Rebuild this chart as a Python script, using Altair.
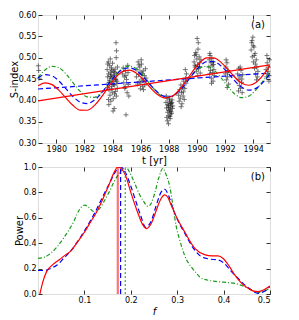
import altair as alt
import pandas as pd

FONT = "DejaVu Sans"

# ---------------- data: panel (a) ----------------
obs_t = [
    1978.72, 1978.75, 1978.78,
    1983.62, 1983.65, 1983.68, 1983.70, 1983.72, 1983.75, 1983.78, 1983.80, 1983.82, 1983.85,
    1983.88, 1983.90, 1983.92, 1983.95, 1983.98, 1984.00, 1984.02, 1984.05, 1984.08, 1984.10,
    1984.12, 1984.15, 1984.18, 1984.20, 1984.22, 1984.25, 1984.28, 1984.30, 1984.32, 1984.35,
    1983.64, 1983.74, 1983.84, 1983.94, 1984.04, 1984.14, 1984.24, 1984.34, 1984.26, 1984.27,
    1983.66, 1983.76, 1983.86, 1983.96, 1984.06, 1984.16, 1983.71, 1983.91, 1984.11, 1984.31,
    1984.72, 1984.76, 1984.80, 1984.84, 1984.88, 1984.92, 1984.96, 1985.00, 1985.04, 1985.08,
    1985.12, 1985.16, 1984.95, 1984.90, 1985.10,
    1985.70, 1985.74, 1985.78, 1985.82, 1985.86, 1985.90, 1985.94, 1985.98, 1986.02, 1986.06,
    1986.10, 1986.14, 1986.18, 1986.22, 1986.26, 1986.30, 1986.34, 1986.38, 1985.88, 1986.00,
    1986.12, 1986.20, 1986.04,
    1987.80, 1987.84, 1987.88, 1987.92, 1987.96, 1988.00, 1988.04, 1988.08, 1988.12, 1988.16,
    1988.20, 1988.24, 1988.28, 1987.86, 1987.94, 1988.02, 1988.10, 1988.18, 1988.26, 1987.98,
    1988.06, 1988.14, 1987.82, 1987.90, 1988.00, 1988.08, 1988.16, 1988.22,
    1988.70, 1988.74, 1988.78, 1988.82, 1988.86, 1988.90, 1988.94, 1988.98, 1989.02, 1989.06,
    1989.10, 1989.14, 1989.18, 1989.22, 1989.26, 1988.88, 1989.04, 1989.20,
    1989.80, 1989.84, 1989.88, 1989.92, 1989.96, 1990.00, 1990.04, 1990.08, 1990.12, 1990.16,
    1990.20, 1990.24, 1990.28, 1989.86, 1989.94, 1990.02, 1990.10, 1990.18, 1990.06,
    1990.85, 1990.88, 1990.91, 1990.94, 1990.97, 1991.00, 1991.03, 1991.06, 1991.09, 1991.12,
    1991.15, 1991.18, 1991.21, 1991.24, 1990.92, 1991.04, 1991.16,
    1992.02, 1992.06, 1992.10, 1992.14, 1992.18, 1992.22, 1992.26, 1992.08, 1992.16, 1992.20,
    1992.90, 1992.94, 1992.98, 1993.02, 1993.06, 1993.10, 1993.14, 1993.18, 1993.22, 1993.26,
    1992.96, 1993.08, 1993.20,
    1993.86, 1993.90, 1993.94, 1993.98, 1994.02, 1994.06, 1994.10, 1994.14, 1994.18, 1994.22,
    1994.26, 1994.30, 1994.34, 1993.92, 1994.00, 1994.08, 1994.16, 1994.24,
    1994.92, 1994.96, 1995.00, 1995.04, 1995.08, 1995.12, 1995.16, 1994.98, 1995.06, 1995.14,
]
obs_s = [
    0.481, 0.470, 0.452,
    0.472, 0.455, 0.438, 0.490, 0.462, 0.425, 0.447, 0.481, 0.412, 0.466,
    0.398, 0.452, 0.476, 0.433, 0.419, 0.487, 0.444, 0.404, 0.468, 0.458,
    0.381, 0.436, 0.473, 0.450, 0.421, 0.535, 0.516, 0.462, 0.440, 0.478,
    0.430, 0.390, 0.497, 0.460, 0.375, 0.415, 0.448, 0.428, 0.500, 0.410,
    0.485, 0.442, 0.456, 0.471, 0.437, 0.465, 0.402, 0.427, 0.453, 0.445,
    0.462, 0.476, 0.441, 0.455, 0.428, 0.470, 0.366, 0.449, 0.418, 0.482,
    0.437, 0.410, 0.458, 0.432, 0.465,
    0.455, 0.472, 0.438, 0.490, 0.461, 0.444, 0.478, 0.427, 0.466, 0.485,
    0.450, 0.432, 0.469, 0.446, 0.458, 0.436, 0.474, 0.452, 0.483, 0.441,
    0.462, 0.425, 0.495,
    0.395, 0.382, 0.405, 0.372, 0.388, 0.364, 0.398, 0.378, 0.392, 0.385,
    0.370, 0.401, 0.387, 0.360, 0.390, 0.376, 0.357, 0.393, 0.381, 0.345,
    0.403, 0.368, 0.410, 0.352, 0.383, 0.362, 0.374, 0.395,
    0.412, 0.398, 0.425, 0.405, 0.436, 0.418, 0.392, 0.430, 0.410, 0.445,
    0.402, 0.428, 0.472, 0.440, 0.462, 0.385, 0.420, 0.452,
    0.490, 0.505, 0.478, 0.512, 0.468, 0.497, 0.483, 0.520, 0.474, 0.502,
    0.488, 0.464, 0.495, 0.482, 0.508, 0.545, 0.535, 0.479, 0.458,
    0.478, 0.495, 0.462, 0.505, 0.470, 0.488, 0.452, 0.498, 0.481, 0.465,
    0.445, 0.484, 0.472, 0.458, 0.510, 0.440, 0.490,
    0.462, 0.478, 0.448, 0.488, 0.455, 0.470, 0.438, 0.495, 0.430, 0.465,
    0.462, 0.448, 0.475, 0.435, 0.455, 0.428, 0.470, 0.442, 0.418, 0.460,
    0.422, 0.478, 0.450,
    0.518, 0.535, 0.502, 0.548, 0.490, 0.525, 0.475, 0.510, 0.462, 0.495,
    0.478, 0.455, 0.468, 0.540, 0.528, 0.505, 0.485, 0.448,
    0.472, 0.455, 0.488, 0.462, 0.478, 0.445, 0.495, 0.505, 0.468, 0.458,
]

fit_t = [1978.7, 1979.2, 1979.7, 1980.2, 1980.7, 1981.2, 1981.7, 1982.2, 1982.7, 1983.2,
         1983.7, 1984.2, 1984.7, 1985.2, 1985.7, 1986.2, 1986.7, 1987.2, 1987.7, 1988.2,
         1988.7, 1989.2, 1989.7, 1990.2, 1990.7, 1991.2, 1991.7, 1992.2, 1992.7, 1993.2,
         1993.7, 1994.2, 1994.7, 1995.2]
fit_red = [0.4339, 0.4410, 0.4368, 0.4233, 0.4050, 0.3877, 0.3771, 0.3768, 0.3877, 0.4073,
           0.4310, 0.4528, 0.4672, 0.4709, 0.4636, 0.4480, 0.4294, 0.4135, 0.4058, 0.4089,
           0.4228, 0.4442, 0.4680, 0.4880, 0.4994, 0.4997, 0.4895, 0.4725, 0.4541, 0.4401,
           0.4354, 0.4419, 0.4586, 0.4813]
fit_blue = [0.4526, 0.4604, 0.4574, 0.4449, 0.4268, 0.4085, 0.3958, 0.3925, 0.4000, 0.4165,
            0.4377, 0.4581, 0.4721, 0.4763, 0.4698, 0.4548, 0.4360, 0.4191, 0.4092, 0.4096,
            0.4205, 0.4392, 0.4608, 0.4795, 0.4905, 0.4910, 0.4812, 0.4643, 0.4455, 0.4305,
            0.4239, 0.4280, 0.4420, 0.4623]
fit_green = [0.4536, 0.4713, 0.4797, 0.4761, 0.4615, 0.4408, 0.4209, 0.4082, 0.4070, 0.4176,
             0.4366, 0.4577, 0.4739, 0.4800, 0.4739, 0.4577, 0.4366, 0.4175, 0.4070, 0.4082,
             0.4209, 0.4409, 0.4615, 0.4761, 0.4797, 0.4713, 0.4536, 0.4324, 0.4146, 0.4063,
             0.4099, 0.4245, 0.4452, 0.4651]
trend_t = [1978.7, 1995.2]
trend_red = [0.3985, 0.483]
trend_blue = [0.4266, 0.464]

# ---------------- data: panel (b) ----------------
red_f = [0.004, 0.010, 0.019, 0.030, 0.046, 0.060, 0.071, 0.085, 0.099, 0.112, 0.124, 0.140,
         0.153, 0.163, 0.172, 0.180, 0.189, 0.200, 0.214, 0.225, 0.234, 0.244, 0.255, 0.265,
         0.273, 0.280, 0.287, 0.300, 0.316, 0.338, 0.359, 0.375, 0.388, 0.399, 0.412, 0.424,
         0.440, 0.453, 0.465, 0.474, 0.485, 0.500]
red_p = [0.0, 0.09, 0.18, 0.225, 0.27, 0.31, 0.34, 0.41, 0.48, 0.56, 0.63, 0.75,
         0.86, 0.95, 1.0, 0.985, 0.93, 0.80, 0.65, 0.55, 0.515, 0.555, 0.66, 0.75,
         0.78, 0.76, 0.70, 0.595, 0.49, 0.36, 0.31, 0.30, 0.30, 0.28, 0.22, 0.15,
         0.08, 0.045, 0.022, 0.018, 0.03, 0.063]
blue_f = [0.0, 0.010, 0.020, 0.030, 0.041, 0.055, 0.070, 0.085, 0.099, 0.112, 0.124, 0.140,
          0.156, 0.168, 0.178, 0.188, 0.199, 0.210, 0.221, 0.232, 0.244, 0.255, 0.265, 0.273,
          0.281, 0.290, 0.300, 0.316, 0.335, 0.352, 0.370, 0.388, 0.402, 0.416, 0.431, 0.446,
          0.460, 0.474, 0.487, 0.500]
blue_p = [0.185, 0.185, 0.19, 0.205, 0.228, 0.28, 0.338, 0.41, 0.49, 0.57, 0.65, 0.77,
          0.885, 0.97, 1.0, 0.96, 0.86, 0.74, 0.62, 0.525, 0.575, 0.70, 0.80, 0.825,
          0.78, 0.68, 0.59, 0.48, 0.36, 0.294, 0.275, 0.268, 0.24, 0.18, 0.124, 0.07,
          0.031, 0.005, 0.02, 0.06]
green_f = [0.0, 0.014, 0.027, 0.041, 0.055, 0.066, 0.077, 0.087, 0.095, 0.101, 0.110, 0.120,
           0.131, 0.142, 0.153, 0.164, 0.174, 0.181, 0.189, 0.198, 0.207, 0.218, 0.228, 0.237,
           0.244, 0.252, 0.260, 0.269, 0.276, 0.284, 0.291, 0.298, 0.305, 0.312, 0.320, 0.330,
           0.340, 0.348, 0.365, 0.388, 0.410, 0.424, 0.440, 0.453, 0.467, 0.478, 0.490, 0.500]
green_p = [0.28, 0.29, 0.32, 0.37, 0.44, 0.50, 0.57, 0.65, 0.69, 0.70, 0.68, 0.648,
           0.665, 0.727, 0.80, 0.884, 0.945, 0.976, 1.0, 0.955, 0.884, 0.79, 0.727, 0.69,
           0.714, 0.80, 0.91, 0.99, 0.94, 0.845, 0.69, 0.53, 0.43, 0.346, 0.27, 0.215,
           0.17, 0.136, 0.11, 0.097, 0.09, 0.084, 0.065, 0.045, 0.02, 0.012, 0.025, 0.05]
peak_f = [0.172, 0.178, 0.188]
peak_p = [1.0, 1.0, 1.0]

year_ticks = [1980, 1982, 1984, 1986, 1988, 1990, 1992, 1994]
s_ticks = [0.30, 0.35, 0.40, 0.45, 0.50, 0.55, 0.60]
f_ticks = [0.1, 0.2, 0.3, 0.4, 0.5]
p_ticks = [0.0, 0.2, 0.4, 0.6, 0.8, 1.0]
panel_labels = ["(a)", "(b)"]

RED = "#ff0000"
BLUE = "#0000ff"
GREEN = "#1a9a1a"
PLUS = "M-1,0L1,0M0,-1L0,1"

W = 232
H1 = 128
H2 = 127


def axis(orient, values, fmt=None, title=None, labels=True, italic=False):
    d = dict(orient=orient, values=values, labels=labels, domain=False, grid=False,
             ticks=True, tickSize=4, offset=-4, tickColor="black", tickWidth=0.8,
             labelFont=FONT, labelFontSize=8, labelColor="black", labelPadding=2,
             titleFont=FONT, titleFontSize=10, titleFontWeight="normal", titleColor="black",
             titlePadding=-1 if orient == "left" else 2, title=title)
    if fmt:
        d["format"] = fmt
    if italic:
        d["titleFontStyle"] = "italic"
    return alt.Axis(**d)


obs_df = pd.DataFrame({"t": obs_t, "s": obs_s})
fit_df = pd.DataFrame({"t": fit_t, "red": fit_red, "blue": fit_blue, "green": fit_green})
trend_df = pd.DataFrame({"t": trend_t, "red": trend_red, "blue": trend_blue})

xt = alt.Scale(domain=[1978.7, 1995.2], nice=False, zero=False)
yt = alt.Scale(domain=[0.30, 0.60], nice=False, zero=False)

pts = alt.Chart(obs_df).mark_point(shape=PLUS, filled=False, size=24, strokeWidth=0.9,
                                   color="black", opacity=0.6).encode(
    x=alt.X("t:Q", scale=xt, axis=axis("bottom", year_ticks, "d", "t [yr]")),
    y=alt.Y("s:Q", scale=yt, axis=axis("left", s_ticks, ".2f", "S-index")),
)


def tline(df, field, color, dash=None, interp="monotone", top_axes=False):
    kw = dict(color=color, strokeWidth=1.2, interpolate=interp, clip=True)
    if dash:
        kw["strokeDash"] = dash
    if top_axes:
        enc = dict(x=alt.X("t:Q", scale=xt, axis=axis("top", year_ticks, labels=False)),
                   y=alt.Y(f"{field}:Q", scale=yt, axis=axis("right", s_ticks, labels=False)))
    else:
        enc = dict(x=alt.X("t:Q", scale=xt, axis=None),
                   y=alt.Y(f"{field}:Q", scale=yt, axis=None))
    return alt.Chart(df).mark_line(**kw).encode(**enc)


lab_a = alt.Chart(pd.DataFrame({"lab": [panel_labels[0]]})).mark_text(
    align="right", baseline="top", font=FONT, fontSize=10, color="black").encode(
    text="lab:N", x=alt.value(W - 5), y=alt.value(5))

top = alt.layer(
    pts,
    tline(fit_df, "green", GREEN, [4, 2, 1, 2], top_axes=True),
    tline(fit_df, "blue", BLUE, [5, 3]),
    tline(trend_df, "blue", BLUE, [5, 3], interp="linear"),
    tline(fit_df, "red", RED),
    tline(trend_df, "red", RED, interp="linear"),
    lab_a,
).resolve_axis(x="independent", y="independent").properties(width=W, height=H1)

# ---------------- panel (b) ----------------
xb = alt.Scale(domain=[0.0, 0.5], nice=False, zero=False)
yb = alt.Scale(domain=[0.0, 1.0], nice=False, zero=False)

red_df = pd.DataFrame({"f": red_f, "p": red_p})
blue_df = pd.DataFrame({"f": blue_f, "p": blue_p})
green_df = pd.DataFrame({"f": green_f, "p": green_p})
peak_df = pd.DataFrame({"f": peak_f, "lo": [0.0, 0.0, 0.0], "hi": peak_p})


def bline(df, color, dash=None, axes=None):
    kw = dict(color=color, strokeWidth=1.2, interpolate="monotone", clip=True)
    if dash:
        kw["strokeDash"] = dash
    if axes == "main":
        enc = dict(x=alt.X("f:Q", scale=xb, axis=axis("bottom", f_ticks, ".1f", "f", italic=True)),
                   y=alt.Y("p:Q", scale=yb, axis=axis("left", p_ticks, ".1f", "Power")))
    elif axes == "top":
        enc = dict(x=alt.X("f:Q", scale=xb, axis=axis("top", f_ticks, labels=False)),
                   y=alt.Y("p:Q", scale=yb, axis=axis("right", p_ticks, labels=False)))
    else:
        enc = dict(x=alt.X("f:Q", scale=xb, axis=None), y=alt.Y("p:Q", scale=yb, axis=None))
    return alt.Chart(df).mark_line(**kw).encode(**enc)


def vrule(i, color, dash=None, width=1.2, opacity=1.0):
    kw = dict(color=color, strokeWidth=width, opacity=opacity)
    if dash:
        kw["strokeDash"] = dash
    return alt.Chart(peak_df.iloc[[i]]).mark_rule(**kw).encode(
        x=alt.X("f:Q", scale=xb, axis=None),
        y=alt.Y("lo:Q", scale=yb, axis=None),
        y2="hi:Q")


lab_b = alt.Chart(pd.DataFrame({"lab": [panel_labels[1]]})).mark_text(
    align="right", baseline="top", font=FONT, fontSize=10, color="black").encode(
    text="lab:N", x=alt.value(W - 5), y=alt.value(5))

bottom = alt.layer(
    bline(green_df, GREEN, [4, 2, 1, 2], axes="top"),
    bline(blue_df, BLUE, [5, 3]),
    bline(red_df, RED, axes="main"),
    vrule(2, GREEN, [2, 2], 1.0),
    vrule(1, BLUE, [5, 3], 1.2),
    vrule(0, RED, None, 2.2, 0.55),
    lab_b,
).resolve_axis(x="independent", y="independent").properties(width=W, height=H2)

chart = alt.vconcat(top, bottom, spacing=24, bounds="flush").properties(
    padding={"left": 0, "top": 2, "right": 5, "bottom": 2}
).configure_view(stroke="black", strokeWidth=1).configure(background="white")

chart.save("out.html", embed_options={"renderer": "svg", "actions": False})
